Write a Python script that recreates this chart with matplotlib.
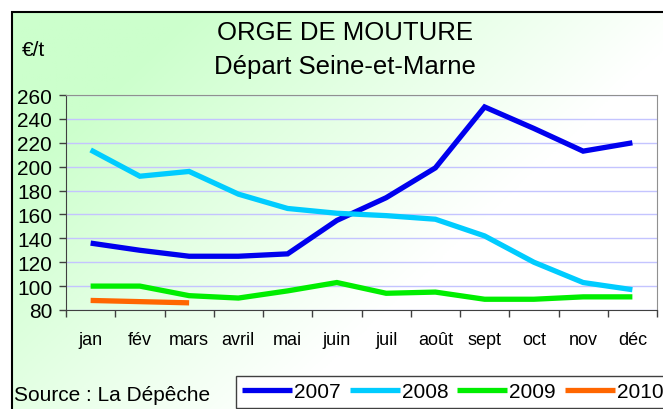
import numpy as np
import matplotlib
matplotlib.use('Agg')
import matplotlib.pyplot as plt
from matplotlib.patches import Rectangle

plt.rcParams['font.family'] = ['Liberation Sans', 'DejaVu Sans']

months = ['jan', 'fév', 'mars', 'avril', 'mai', 'juin', 'juil', 'août', 'sept', 'oct', 'nov', 'déc']
p2007 = [136, 130, 125, 125, 127, 155, 174, 199, 250, 232, 213, 220]
p2008 = [214, 192, 196, 177, 165, 161, 159, 156, 142, 120, 103, 97]
p2009 = [100, 100, 92, 90, 96, 103, 94, 95, 89, 89, 91, 91]
p2010 = [88, 87, 86]

series = [('2007', p2007, '#0000ee'), ('2008', p2008, '#00ccff'),
          ('2009', p2009, '#00ee00'), ('2010', p2010, '#ff6600')]

W, H = 663, 410
fig = plt.figure(figsize=(W/100, H/100), dpi=100)

# background gradient (green top-left fading to white)
bg = fig.add_axes([0, 0, 1, 1], zorder=-2)
xx, yy = np.meshgrid(np.linspace(0, 1, 300), np.linspace(0, 1, 200))
f = np.clip(1.35 - 1.5*(0.85*xx + 0.55*yy), 0, 1)
green = np.array([204, 255, 204]) / 255.
img = 1 - (1 - green)[None, None, :] * f[:, :, None]
bg.imshow(img, extent=[12/W, 1, 0, 1-13/H], aspect='auto', origin='upper')
bg.set_xlim(0, 1)
bg.set_ylim(0, 1)
bg.axis('off')
fig.patches.append(Rectangle((12/W, -0.1), 1.0, 1.1-13/H, transform=fig.transFigure,
                             fill=False, edgecolor='black', linewidth=1.5, zorder=5))

ax = fig.add_axes([66/W, 1-311/H, (657-66)/W, (311-96)/H])
ax.set_facecolor('none')
x = np.arange(len(months))
for name, vals, col in series:
    ax.plot(x[:len(vals)], vals, color=col, linewidth=3.8, solid_capstyle='butt',
            solid_joinstyle='miter', label=name, zorder=3)

ax.set_xlim(-0.5, 11.5)
ax.set_ylim(80, 260)
ax.set_yticks(np.arange(80, 261, 20))
ax.yaxis.grid(True, color='#c4c4ff', linewidth=1)
ax.set_axisbelow(True)
ax.tick_params(axis='y', labelsize=15, length=5, width=1, color='#404040', pad=5)
ax.set_xticks(x)
ax.set_xticklabels(months)
ax.tick_params(axis='x', which='major', length=0, labelsize=13, pad=15)
ax.set_xticks(np.arange(-0.5, 12, 1), minor=True)
ax.tick_params(axis='x', which='minor', length=5, width=1, color='#404040')
for s in ['left', 'bottom']:
    ax.spines[s].set_color('#404040')
for s in ['top', 'right']:
    ax.spines[s].set_color('#909090')

fig.text(345/W, 1-33/H, 'ORGE DE MOUTURE', fontsize=18.5, ha='center', va='center')
fig.text(345/W, 1-67/H, 'Départ Seine-et-Marne', fontsize=18.5, ha='center', va='center')
fig.text(22/W, 1-50/H, '€/t', fontsize=15, ha='left', va='center')
fig.text(14/W, 1-396/H, 'Source : La Dépêche', fontsize=15, ha='left', va='center')

leg = fig.legend(loc='upper left', bbox_to_anchor=(236/W, 1-377/H), ncol=4,
                 fontsize=15, handlelength=2.4, handletextpad=0.1, columnspacing=0.42,
                 borderpad=0.3, borderaxespad=0, fancybox=False, framealpha=1)
leg.get_frame().set_edgecolor('#404040')
leg.get_frame().set_linewidth(1)

fig.savefig('out.png', dpi=100)
